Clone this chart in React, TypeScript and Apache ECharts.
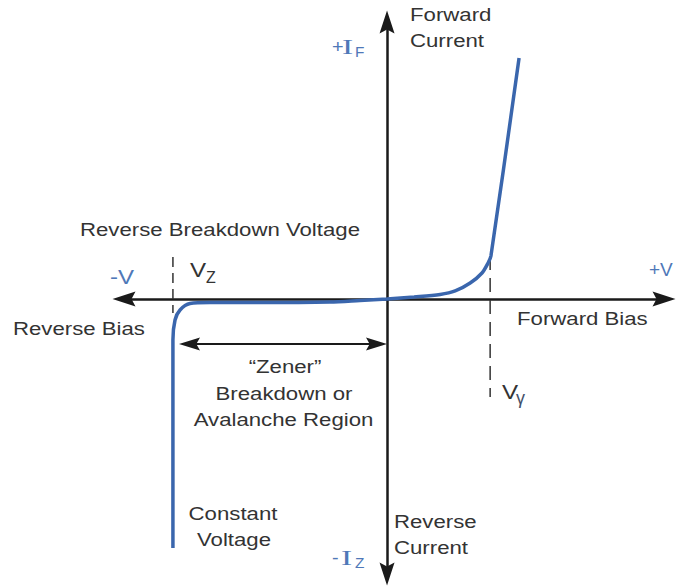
import React, { useEffect, useRef } from "react";
import * as echarts from "echarts";

// Zener diode I-V characteristic, arbitrary units (x: voltage, y: current)
const curveVoltage = [-8.14, -8.14, -8.14, -8.06, -7.87, -7.49, -6.73, -4.83, -2.17, -1.03, 0, 1.03, 2.02, 2.59, 3.16, 3.61, 3.84, 3.95, 5.02];
const curveCurrent = [-26.97, -10.94, -4.44, -2.27, -1.19, -0.49, -0.38, -0.38, -0.32, -0.16, 0, 0.22, 0.49, 0.87, 1.73, 2.82, 3.9, 4.66, 26.1];

const zenerVoltage = -8.14; // V_Z marker
const kneeVoltage = 3.92; // V_gamma marker
const vzMarkerCurrent = [4.55, -1.52];
const vgMarkerCurrent = [4.66, -10.61];
const zenerArrowVoltage = [-7.51, -0.4];
const zenerArrowCurrent = -4.87;

const xRange = [-10, 10.53];
const yRange = [-29.78, 30];

const ARROW = "path://M0,0 L7.5,23 L0,19 L-7.5,23 Z";
const SANS = '"Liberation Sans", Arial, sans-serif';
const SERIF = '"Liberation Serif", "Times New Roman", serif';
const DARK = "#333333";
const BLUE = "#4f78b8";
const CURVE = "#3a66ad";

type TOpt = { size?: number; color?: string; align?: string; scaleX?: number; family?: string };
function txt(text: string, x: number, y: number, o: TOpt = {}) {
  const align = o.align ?? "left";
  return {
    type: "text",
    x,
    y,
    scaleX: o.scaleX ?? 1.2,
    silent: true,
    z: 100,
    style: {
      text,
      fill: o.color ?? DARK,
      fontSize: o.size ?? 18.5,
      fontFamily: o.family ?? SANS,
      align,
      textAlign: align,
      verticalAlign: "middle",
      textVerticalAlign: "middle",
    },
  };
}

export default function App() {
  const ref = useRef<HTMLDivElement>(null);
  useEffect(() => {
    if (!ref.current) return;
    const chart = echarts.init(ref.current, undefined, { renderer: "svg" });
    const axisCommon = {
      type: "value",
      axisTick: { show: false },
      axisLabel: { show: false },
      splitLine: { show: false },
    };
    const option: any = {
      animation: false,
      backgroundColor: "#ffffff",
      grid: { left: 124, right: 12, top: 22, bottom: 14, containLabel: false },
      xAxis: {
        ...axisCommon,
        min: xRange[0],
        max: xRange[1],
        axisLine: {
          show: true,
          onZero: true,
          symbol: [ARROW, ARROW],
          symbolSize: [15, 23],
          lineStyle: { color: "#1a1a1a", width: 2.5 },
        },
      },
      yAxis: {
        ...axisCommon,
        min: yRange[0],
        max: yRange[1],
        axisLine: {
          show: true,
          onZero: true,
          symbol: [ARROW, ARROW],
          symbolSize: [15, 23],
          lineStyle: { color: "#1a1a1a", width: 2.5 },
        },
      },
      series: [
        {
          type: "line",
          name: "Vz marker",
          data: [
            [zenerVoltage, vzMarkerCurrent[0]],
            [zenerVoltage, vzMarkerCurrent[1]],
          ],
          symbol: "none",
          silent: true,
          lineStyle: { color: "#333", width: 1.5, type: [10, 6] },
          markLine: {
            silent: true,
            animation: false,
            symbol: [ARROW, ARROW],
            symbolSize: [13, 21],
            label: { show: false },
            lineStyle: { color: "#1a1a1a", width: 2, type: "solid" },
            data: [
              [
                { coord: [zenerArrowVoltage[0], zenerArrowCurrent] },
                { coord: [zenerArrowVoltage[1], zenerArrowCurrent] },
              ],
            ],
          },
        },
        {
          type: "line",
          name: "Vgamma marker",
          data: [
            [kneeVoltage, vgMarkerCurrent[0]],
            [kneeVoltage, vgMarkerCurrent[1]],
          ],
          symbol: "none",
          silent: true,
          lineStyle: { color: "#333", width: 1.5, type: [14, 8] },
        },
        {
          type: "line",
          name: "I-V curve",
          data: curveVoltage.map((v, i) => [v, curveCurrent[i]]),
          symbol: "none",
          smooth: 0.3,
          silent: true,
          z: 5,
          lineStyle: { color: CURVE, width: 3.5 },
        },
      ],
      graphic: [
        txt("Forward", 410, 15),
        txt("Current", 410, 41),
        txt("+", 332, 47, { color: BLUE, size: 18, scaleX: 1.1 }),
        txt("I", 342, 47, { color: BLUE, size: 21, scaleX: 1.6, family: SERIF }),
        txt("F", 355, 52, { color: BLUE, size: 14, scaleX: 1.1 }),
        txt("Reverse Breakdown Voltage", 80, 229.5),
        txt("-V", 110, 277, { color: BLUE, size: 20, scaleX: 1.2 }),
        txt("V", 190, 270, { size: 21, scaleX: 1.15 }),
        txt("Z", 206, 277, { size: 16, scaleX: 1.0 }),
        txt("+V", 649, 269, { color: BLUE, size: 19, scaleX: 1.0 }),
        txt("Reverse Bias", 13, 329),
        txt("Forward Bias", 517, 318.5),
        txt("\u201CZener\u201D", 285, 367, { align: "center" }),
        txt("Breakdown or", 284, 393.5, { align: "center" }),
        txt("Avalanche Region", 283.5, 420, { align: "center" }),
        txt("V", 502, 392.5, { size: 21, scaleX: 1.15 }),
        txt("\u03B3", 516, 398, { size: 18, scaleX: 1.0, color: "#44506a" }),
        txt("Constant", 233, 514, { align: "center" }),
        txt("Voltage", 234, 540, { align: "center" }),
        txt("Reverse", 394, 522),
        txt("Current", 394, 548),
        txt("-", 332, 558, { color: BLUE, size: 18, scaleX: 1.1 }),
        txt("I", 341, 558, { color: BLUE, size: 21, scaleX: 1.6, family: SERIF }),
        txt("Z", 355, 563, { color: BLUE, size: 14, scaleX: 1.1 }),
      ],
    };
    chart.setOption(option);
    return () => chart.dispose();
  }, []);
  return (
    <div
      ref={ref}
      style={{ position: "absolute", left: 0, top: 0, width: 676, height: 588, background: "#fff" }}
    />
  );
}
